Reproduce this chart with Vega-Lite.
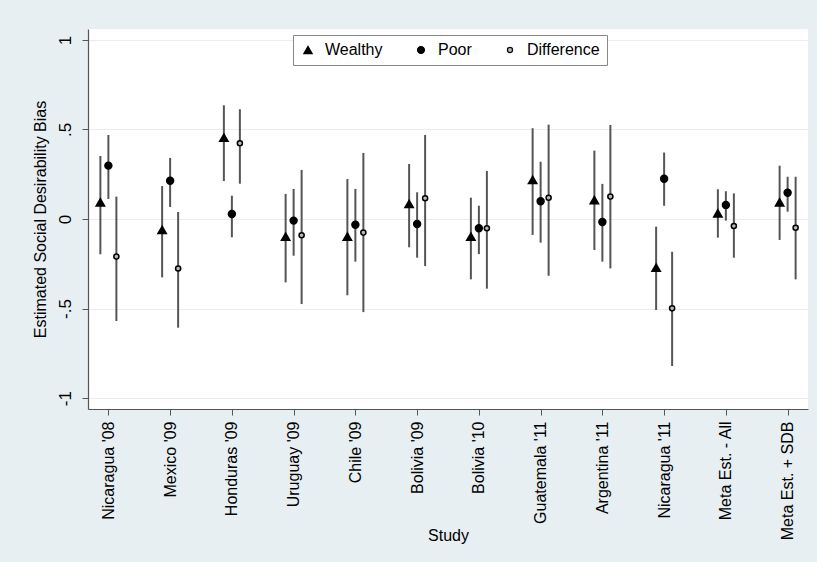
{
  "$schema": "https://vega.github.io/schema/vega-lite/v6.json",
  "width": 720,
  "height": 380,
  "autosize": {"type": "none"},
  "padding": {"left": 88, "top": 29, "right": 9, "bottom": 153},
  "background": "#e8eff2",
  "config": {
    "font": "Liberation Sans",
    "view": {"fill": "white", "stroke": null},
    "axis": {"labelFont": "Liberation Sans", "titleFont": "Liberation Sans", "labelColor": "#000", "titleColor": "#000", "titleFontWeight": "normal"}
  },
  "data": {"values": [
    {"study": "Nicaragua '08", "series": "Wealthy", "est": 0.093, "lo": -0.197, "hi": 0.352},
    {"study": "Nicaragua '08", "series": "Poor", "est": 0.298, "lo": 0.112, "hi": 0.469},
    {"study": "Nicaragua '08", "series": "Difference", "est": -0.21, "lo": -0.57, "hi": 0.125},
    {"study": "Mexico '09", "series": "Wealthy", "est": -0.061, "lo": -0.326, "hi": 0.184},
    {"study": "Mexico '09", "series": "Poor", "est": 0.214, "lo": 0.067, "hi": 0.341},
    {"study": "Mexico '09", "series": "Difference", "est": -0.276, "lo": -0.607, "hi": 0.039},
    {"study": "Honduras '09", "series": "Wealthy", "est": 0.454, "lo": 0.212, "hi": 0.635},
    {"study": "Honduras '09", "series": "Poor", "est": 0.028, "lo": -0.102, "hi": 0.13},
    {"study": "Honduras '09", "series": "Difference", "est": 0.423, "lo": 0.197, "hi": 0.613},
    {"study": "Uruguay '09", "series": "Wealthy", "est": -0.099, "lo": -0.354, "hi": 0.14},
    {"study": "Uruguay '09", "series": "Poor", "est": -0.009, "lo": -0.205, "hi": 0.168},
    {"study": "Uruguay '09", "series": "Difference", "est": -0.091, "lo": -0.475, "hi": 0.274},
    {"study": "Chile '09", "series": "Wealthy", "est": -0.099, "lo": -0.426, "hi": 0.223},
    {"study": "Chile '09", "series": "Poor", "est": -0.032, "lo": -0.238, "hi": 0.168},
    {"study": "Chile '09", "series": "Difference", "est": -0.076, "lo": -0.52, "hi": 0.369},
    {"study": "Bolivia '09", "series": "Wealthy", "est": 0.084, "lo": -0.158, "hi": 0.307},
    {"study": "Bolivia '09", "series": "Poor", "est": -0.028, "lo": -0.216, "hi": 0.149},
    {"study": "Bolivia '09", "series": "Difference", "est": 0.116, "lo": -0.263, "hi": 0.469},
    {"study": "Bolivia '10", "series": "Wealthy", "est": -0.099, "lo": -0.337, "hi": 0.119},
    {"study": "Bolivia '10", "series": "Poor", "est": -0.052, "lo": -0.196, "hi": 0.074},
    {"study": "Bolivia '10", "series": "Difference", "est": -0.052, "lo": -0.389, "hi": 0.268},
    {"study": "Guatemala '11", "series": "Wealthy", "est": 0.218, "lo": -0.089, "hi": 0.507},
    {"study": "Guatemala '11", "series": "Poor", "est": 0.099, "lo": -0.132, "hi": 0.32},
    {"study": "Guatemala '11", "series": "Difference", "est": 0.119, "lo": -0.317, "hi": 0.527},
    {"study": "Argentina '11", "series": "Wealthy", "est": 0.106, "lo": -0.173, "hi": 0.382},
    {"study": "Argentina '11", "series": "Poor", "est": -0.017, "lo": -0.238, "hi": 0.196},
    {"study": "Argentina '11", "series": "Difference", "est": 0.125, "lo": -0.276, "hi": 0.525},
    {"study": "Nicaragua '11", "series": "Wealthy", "est": -0.272, "lo": -0.508, "hi": -0.043},
    {"study": "Nicaragua '11", "series": "Poor", "est": 0.225, "lo": 0.074, "hi": 0.371},
    {"study": "Nicaragua '11", "series": "Difference", "est": -0.499, "lo": -0.821, "hi": -0.183},
    {"study": "Meta Est. - All", "series": "Wealthy", "est": 0.032, "lo": -0.104, "hi": 0.166},
    {"study": "Meta Est. - All", "series": "Poor", "est": 0.078, "lo": -0.009, "hi": 0.155},
    {"study": "Meta Est. - All", "series": "Difference", "est": -0.039, "lo": -0.216, "hi": 0.143},
    {"study": "Meta Est. + SDB", "series": "Wealthy", "est": 0.093, "lo": -0.117, "hi": 0.298},
    {"study": "Meta Est. + SDB", "series": "Poor", "est": 0.147, "lo": 0.041, "hi": 0.236},
    {"study": "Meta Est. + SDB", "series": "Difference", "est": -0.049, "lo": -0.337, "hi": 0.236}
  ]},
  "encoding": {
    "x": {
      "field": "study", "type": "nominal", "sort": null,
      "scale": {"type": "point", "padding": 0.33},
      "axis": {
        "title": "Study", "titleFontSize": 16, "titleY": 118,
        "labelAngle": -90, "labelFontSize": 16, "labelPadding": 6,
        "tickSize": 6, "tickColor": "#555", "domainColor": "#555", "domainWidth": 1.2,
        "grid": false
      }
    },
    "xOffset": {
      "field": "series", "type": "nominal",
      "scale": {"type": "point", "domain": ["Wealthy", "Poor", "Difference"], "range": [-8, 8], "padding": 0}
    }
  },
  "layer": [
    {
      "mark": {"type": "rule", "color": "#555", "strokeWidth": 2},
      "encoding": {
        "y": {
          "field": "lo", "type": "quantitative",
          "scale": {"domain": [-1.061, 1.061], "nice": false, "zero": false},
          "axis": {
            "title": "Estimated Social Desirability Bias", "titleFontSize": 16, "titlePadding": 8,
            "values": [-1, -0.5, 0, 0.5, 1],
            "labelExpr": "datum.value == 1 ? '1' : datum.value == 0.5 ? '.5' : datum.value == 0 ? '0' : datum.value == -0.5 ? '-.5' : '-1'",
            "labelAngle": -90, "labelFontSize": 17, "labelPadding": 8,
            "tickSize": 6, "tickColor": "#555", "domainColor": "#555", "domainWidth": 1.2,
            "grid": true, "gridColor": "#e6eef1", "gridWidth": 1.2
          }
        },
        "y2": {"field": "hi"}
      }
    },
    {
      "mark": {"type": "point", "filled": true, "stroke": "black", "strokeWidth": 1.5, "opacity": 1},
      "encoding": {
        "y": {"field": "est", "type": "quantitative"},
        "shape": {
          "field": "series", "type": "nominal", "title": null,
          "scale": {"domain": ["Wealthy", "Poor", "Difference"], "range": ["triangle-up", "circle", "circle"]},
          "legend": {
            "orient": "none", "legendX": 205, "legendY": 6, "direction": "horizontal",
            "fillColor": "white", "strokeColor": "#888", "padding": 7,
            "labelFontSize": 16, "labelFont": "Liberation Sans", "labelColor": "#000",
            "columnPadding": 30, "labelOffset": 9, "symbolStrokeWidth": 1.2,
            "cornerRadius": 0,
            "encode": {"symbols": {"update": {"size": {"value": 22}}}}
          }
        },
        "fill": {
          "field": "series", "type": "nominal", "title": null,
          "scale": {"domain": ["Wealthy", "Poor", "Difference"], "range": ["black", "black", "#bbbbbb"]}
        },
        "size": {
          "field": "series", "type": "nominal", "title": null,
          "scale": {"domain": ["Wealthy", "Poor", "Difference"], "range": [70, 26, 28]}
        }
      }
    }
  ]
}
